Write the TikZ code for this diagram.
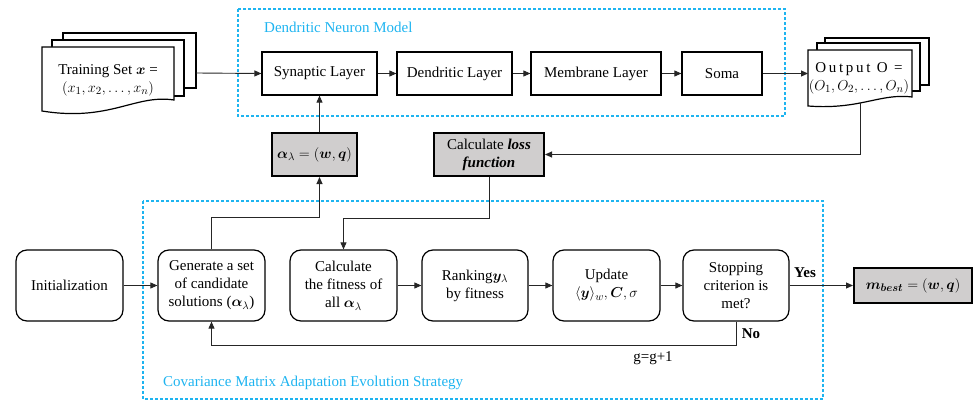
\documentclass[tikz,border=0pt]{standalone}
\usepackage{amsmath,bm}
\usepackage{fontspec}
\setmainfont{LiberationSerif}[Extension=.ttf, UprightFont=*-Regular, BoldFont=*-Bold, ItalicFont=*-Italic, BoldItalicFont=*-BoldItalic]
\usetikzlibrary{arrows.meta}
\definecolor{dnmcyan}{RGB}{30,180,240}
\definecolor{boxgray}{RGB}{208,206,206}
\begin{document}
\begin{tikzpicture}[x=1pt,y=-1pt,
  every node/.style={font=\fontsize{15}{18}\selectfont},
  rbox/.style={draw, line width=1.2pt, rounded corners=11pt, minimum width=107pt, minimum height=71pt, inner sep=0pt, align=center},
  sqbox/.style={draw, line width=1.2pt, minimum height=43pt, inner sep=0pt, align=center},
  gbox/.style={draw, fill=boxgray, line width=2pt, inner sep=0pt, align=center},
  page/.style={draw, fill=white, line width=1.2pt},
  conn/.style={line width=0.9pt, draw=black!85},
  arr/.style={-{Triangle[length=7pt,width=6pt]}},
  dashbox/.style={draw=dnmcyan, line width=1.1pt, dash pattern=on 3pt off 2pt},
  lbl/.style={text=dnmcyan, anchor=west, inner sep=0pt}
]
\useasboundingbox (0,0) rectangle (974,401);

% dashed group boxes
\draw[dashbox] (238,9) rectangle (785,116);
\node[lbl] (dnmlabel) at (264,27) {Dendritic Neuron Model};
\draw[dashbox] (143,201) rectangle (823,399);
\node[lbl] (cmalabel) at (163,383) {Covariance Matrix Adaptation Evolution Strategy};

% training set document
\draw[page] (63,33) rectangle (196,88);
\draw[page] (52,40) rectangle (184,96);
\draw[page] (42,47) -- (174,47) -- (174,100) .. controls (135,94) and (110,122) .. (42,111) -- cycle;
\node[align=center, inner sep=0pt] (train) at (108,80) {Training Set $\bm{x}$ =\\ $(x_1,x_2,\ldots,x_n)$};
\coordinate (trainR) at (196,73);

% output document
\draw[page] (825,38) rectangle (929,85);
\draw[page] (817,43) rectangle (920,91);
\draw[page] (808,50) -- (912,50) -- (912,97) .. controls (880,93) and (860,110) .. (808,106) -- cycle;
\node[align=center, inner sep=0pt] (out) at (859,78) {{\addfontfeature{LetterSpace=18}Output O =}\\ $(O_1,O_2,\ldots,O_n)$};
\coordinate (outL) at (808,73.5);
\coordinate (outB) at (860,103);

% DNM layers
\node[sqbox, minimum width=115pt] (syn) at (319.5,73.5) {Synaptic Layer};
\node[sqbox, minimum width=115pt] (den) at (454.5,73.5) {Dendritic Layer};
\node[sqbox, minimum width=130pt] (mem) at (596,73.5) {Membrane Layer};
\node[sqbox, minimum width=80pt] (soma) at (722,73.5) {Soma};

% gray boxes
\node[gbox, minimum width=85pt, minimum height=43pt] (alpha) at (314.5,154.5) {$\bm{\alpha}_\lambda = (\bm{w},\bm{q})$};
\node[gbox, minimum width=110pt, minimum height=43pt] (loss) at (489,154.5) {Calculate \textbf{\textit{loss}}\\ \textbf{\textit{function}}};
\node[gbox, minimum width=118pt, minimum height=35pt] (mbest) at (913,285.5) {$\bm{m_{best}} = (\bm{w},\bm{q})$};

% CMA-ES steps
\node[rbox] (init) at (69.5,285.5) {Initialization};
\node[rbox] (gen) at (211.5,285.5) {Generate a set\\ of candidate\\ solutions ($\bm{\alpha}_\lambda$)};
\node[rbox] (fit) at (343.5,285.5) {Calculate\\ the fitness of\\ all $\bm{\alpha}_\lambda$};
\node[rbox, minimum width=106pt] (rank) at (475,285.5) {Ranking$\bm{y}_\lambda$\\ by fitness};
\node[rbox] (upd) at (606.5,285.5) {Update\\ $\langle\bm{y}\rangle_w, \bm{C}, \sigma$};
\node[rbox, minimum width=106pt] (stop) at (736,285.5) {Stopping\\ criterion is\\ met?};

% labels
\node[font=\fontsize{15}{18}\selectfont\bfseries] (yes) at (805,273) {Yes};
\node[font=\fontsize{15}{18}\selectfont\bfseries] (no) at (751,334) {No};
\node (ginc) at (653,358) {g=g+1};

% junctions
\coordinate (j1) at (211.5,217);
\coordinate (j2) at (489,218);
\coordinate (j3) at (736,345);

% connectors
\draw[conn,arr] (trainR) -- (syn.west);
\draw[conn,arr] (syn) -- (den);
\draw[conn,arr] (den) -- (mem);
\draw[conn,arr] (mem) -- (soma);
\draw[conn,arr] (soma.east) -- (outL);
\draw[conn,arr] (outB) |- (loss.east);
\draw[conn,arr] (alpha.north -| syn) -- (syn.south);
\draw[conn,arr] (gen.north) -- (j1) -| (alpha.south -| syn);
\draw[conn,arr] (loss.south) -- (j2) -| (fit.north);
\draw[conn,arr] (init) -- (gen);
\draw[conn,arr] (fit) -- (rank);
\draw[conn,arr] (rank) -- (upd);
\draw[conn,arr] (upd) -- (stop);
\draw[conn,arr] (stop) -- (mbest);
\draw[conn,arr] (stop.south) -- (j3) -| (gen.south);
\end{tikzpicture}
\end{document}
